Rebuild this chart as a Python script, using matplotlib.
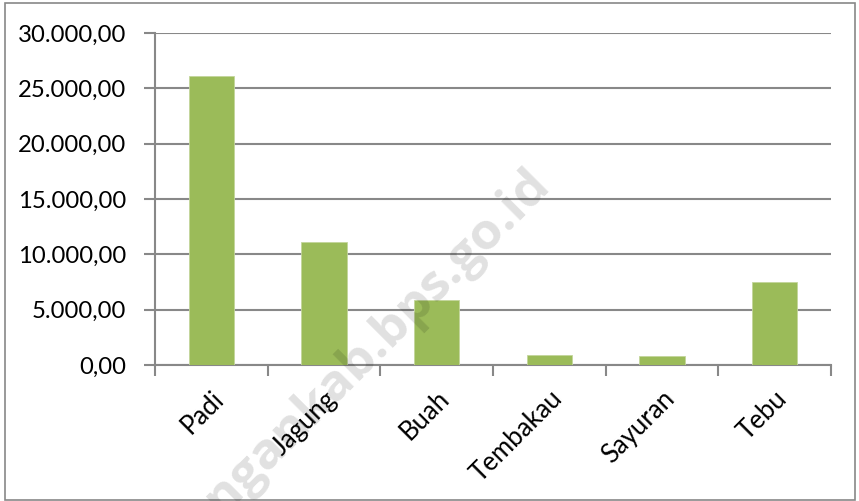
import matplotlib
matplotlib.use("Agg")
import matplotlib.pyplot as plt
from matplotlib.patches import Rectangle
from matplotlib.ticker import FuncFormatter, FixedLocator
import numpy as np

categories = ["Padi", "Jagung", "Buah", "Tembakau", "Sayuran", "Tebu"]
values = [26100, 11100, 5900, 900, 780, 7500]
watermark = "lamongankab.bps.go.id"

plt.rcParams['font.family'] = ['Lato', 'DejaVu Sans']

fig = plt.figure(figsize=(8.59, 5.01), dpi=100)
ax = fig.add_axes([155/859, 1-365/501, (831-155)/859, (365-33)/501])

x = np.arange(len(categories))
ax.bar(x, values, width=0.4, color="#9BBB59", edgecolor="#C3D69B", linewidth=0.6, zorder=3)

ax.set_xlim(-0.5, len(categories) - 0.5)
ax.set_ylim(0, 30000)
ax.set_yticks(np.arange(0, 30001, 5000))

def fmt(v, pos):
    s = f"{v:,.2f}"
    return s.replace(",", "X").replace(".", ",").replace("X", ".")
ax.yaxis.set_major_formatter(FuncFormatter(fmt))

ax.xaxis.set_major_locator(FixedLocator(np.arange(-0.5, len(categories), 1.0)))
ax.xaxis.set_major_formatter(FuncFormatter(lambda v, p: ""))
ax.set_xticks(x, minor=True)
ax.set_xticklabels(categories, minor=True, rotation=45, ha="right",
                   rotation_mode="anchor", fontsize=18.5)
ax.tick_params(axis="x", which="minor", length=0, pad=15)
ax.tick_params(axis="x", which="major", length=8, width=1.5, color="#888888")
ax.tick_params(axis="y", length=8, width=1.5, color="#888888", labelsize=17.2, pad=13)

ax.grid(axis="y", color="#888888", linewidth=1.5, zorder=0)
for s in ["top", "right"]:
    ax.spines[s].set_visible(False)
for s in ["left", "bottom"]:
    ax.spines[s].set_color("#888888")
    ax.spines[s].set_linewidth(1.5)

fig.text(551/859, 1-186/501, watermark, rotation=45, rotation_mode="anchor",
         fontsize=37, fontweight="bold", family=["Open Sans", "DejaVu Sans"],
         color="#000000", alpha=0.12, ha="right", va="baseline", zorder=10)

fig.patches.append(Rectangle((5/859, 0.002), (855-5)/859, (501-3-1)/501,
                             transform=fig.transFigure, fill=False,
                             edgecolor="#888888", linewidth=1.2))

fig.savefig("out.png", dpi=100)
